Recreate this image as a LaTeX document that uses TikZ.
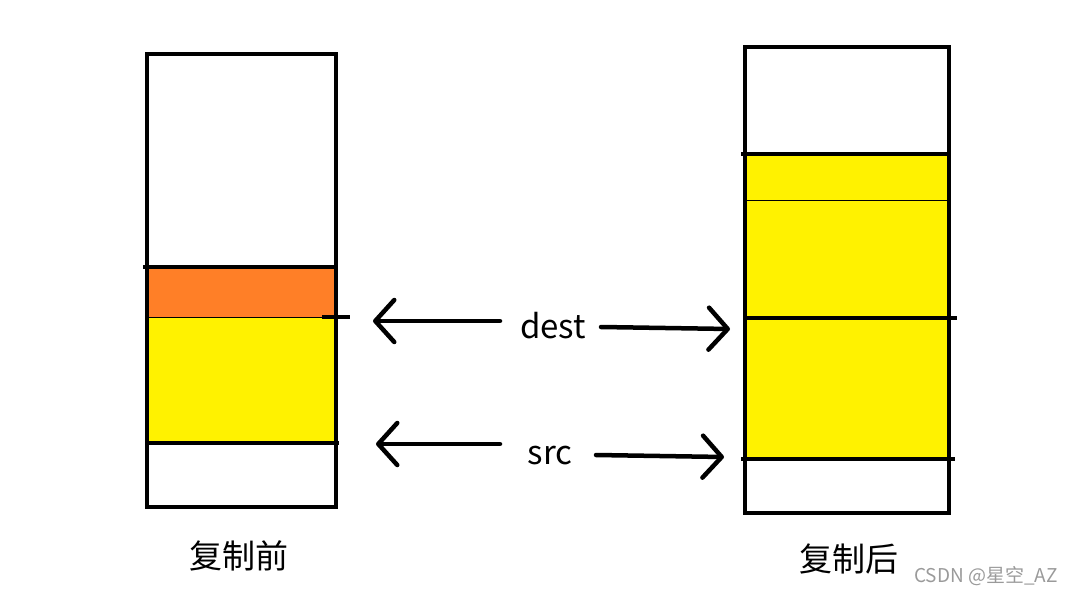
\documentclass[tikz,border=0pt]{standalone}
\usepackage{xcolor}
\usepackage{fontspec}
\setmainfont{Noto Sans CJK SC}
\usetikzlibrary{arrows.meta}
\definecolor{arancio}{HTML}{FF7F27}
\definecolor{giallo}{HTML}{FFF200}
\definecolor{grigio}{HTML}{9A9A9A}

\begin{document}
\begin{tikzpicture}[x=1pt, y=-1pt,
    bar/.style={line width=4.5pt},
    thinbar/.style={line width=1pt},
    arr/.style={line width=4.5pt, line cap=round,
      -{Straight Barb[length=19pt,width=42pt,line width=4.5pt,round]}},
    lbl/.style={font=\fontsize{33}{36}\selectfont, inner sep=0pt, anchor=base},
    cjk/.style={font=\fontsize{33}{36}\selectfont, inner sep=0pt}]
  \useasboundingbox (0,0) rectangle (1074,594);

  % Colonna prima della copia
  \fill[arancio] (147,267) rectangle (336,317);
  \fill[giallo] (147,317) rectangle (336,443);
  \draw[thinbar] (147,317) -- (336,317);
  \draw[bar] (143,267) -- (336,267);
  \draw[bar] (147,443) -- (339,443);
  \draw[bar] (322,317) -- (350,317);
  \draw[bar] (147,54) rectangle (336,507);

  % Colonna dopo la copia
  \fill[giallo] (745,154) rectangle (949,459);
  \draw[thinbar] (745,200) -- (949,200);
  \draw[bar] (741,154) -- (949,154);
  \draw[bar] (745,318) -- (957,318);
  \draw[bar] (741,459) -- (955,459);
  \draw[bar] (745,47) rectangle (949,513);

  % Etichette
  \node[lbl] (dest) at (553,338) {dest};
  \node[lbl] (src) at (550,464) {src};
  \node[cjk] (prima) at (239,556) {复制前};
  \node[cjk] (dopo) at (849,559) {复制后};
  \node[grigio, font=\fontsize{19}{21}\selectfont, inner sep=0pt] (firma) at (986,576) {CSDN @星空\_AZ};

  % Frecce
  \coordinate (destA) at (500,321);
  \coordinate (destL) at (373,321);
  \coordinate (destB) at (601,327);
  \coordinate (destR) at (730,329);
  \coordinate (srcA) at (500,444);
  \coordinate (srcL) at (376,444);
  \coordinate (srcB) at (596,455);
  \coordinate (srcR) at (724,457);
  \draw[arr] (destA) -- (destL);
  \draw[arr] (destB) -- (destR);
  \draw[arr] (srcA) -- (srcL);
  \draw[arr] (srcB) -- (srcR);
\end{tikzpicture}
\end{document}
